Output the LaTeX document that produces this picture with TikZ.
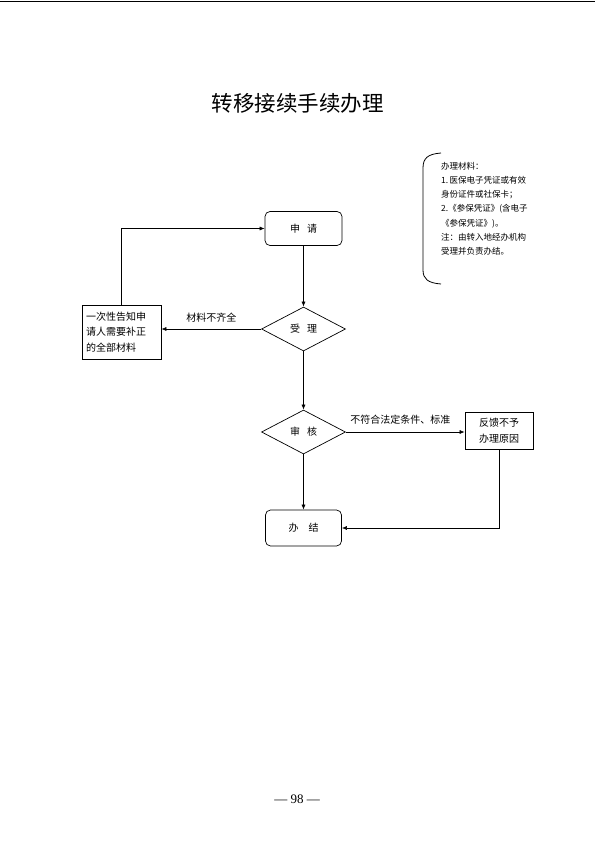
\documentclass[tikz,border=0pt]{standalone}
\usepackage{fontspec}
\setmainfont{Liberation Serif}
\newfontfamily\cjk{Noto Sans CJK SC}
\usetikzlibrary{shapes.geometric,arrows.meta}
\begin{document}
\begin{tikzpicture}[x=1pt,y=-1pt,
  every node/.style={font=\cjk\fontsize{10}{15.5}\selectfont, inner sep=0pt},
  rbox/.style={draw, rounded corners=5pt, minimum width=77pt, minimum height=34pt, line width=0.7pt},
  sbox/.style={draw, line width=0.7pt, align=left},
  dia/.style={draw, diamond, aspect=1.9, minimum width=84pt, minimum height=44pt, line width=0.7pt},
  arr/.style={-{Latex[length=5pt,width=4pt]}, line width=0.6pt},
  lbl/.style={font=\cjk\fontsize{10}{12}\selectfont}]
\useasboundingbox (0,0) rectangle (595,841);
\draw[line width=1pt] (0,1) -- (595,1);
\node (title) at (297.5,103) {\cjk\fontsize{21.5}{26}\selectfont 转移接续手续办理};

\node[rbox] (apply) at (303.5,228.5) {申\hspace{7pt}请};
\node[dia] (accept) at (303.5,329) {受\hspace{7pt}理};
\node[dia] (review) at (303.5,432) {审\hspace{7pt}核};
\node[rbox, minimum width=76pt, minimum height=36pt] (done) at (303.5,528) {办\hspace{10pt}结};
\node[sbox, minimum width=79pt, minimum height=54pt, text width=71pt, inner xsep=4pt] (notify) at (121.5,332) {一次性告知申\\请人需要补正\\的全部材料};
\node[sbox, minimum width=68pt, minimum height=37pt, align=center] (feedback) at (499,430.5) {反馈不予\\办理原因};

\draw[arr] (apply.south) -- (accept.north);
\draw[arr] (accept.west) -- (accept.west -| notify.east) node[lbl, midway, above=6pt] (l1) {材料不齐全};
\draw[arr] (notify.north) |- (apply.west);
\draw[arr] (accept.south) -- (review.north);
\draw[arr] (review.east) -- (review.east -| feedback.west) node[lbl, midway, above=7pt, xshift=-5pt] (l2) {不符合法定条件、标准};
\draw[arr] (review.south) -- (done.north);
\draw[arr] (feedback.south) |- (done.east);

\draw[line width=0.8pt] (441,153) .. controls (428,154) and (423,158) .. (423,168) -- (423,270) .. controls (423,279) and (428,283) .. (441,284);
\node[anchor=north west, align=left, font=\cjk\fontsize{8.5}{14.2}\selectfont] (note) at (441,162) {办理材料：\\1.\,医保电子凭证或有效\\身份证件或社保卡；\\2.《参保凭证》(含电子\\《参保凭证》)。\\注：由转入地经办机构\\受理并负责办结。};

\node (page) at (297,799) {\normalfont\fontsize{13}{15}\selectfont \textemdash\ 98\ \textemdash};
\end{tikzpicture}
\end{document}
